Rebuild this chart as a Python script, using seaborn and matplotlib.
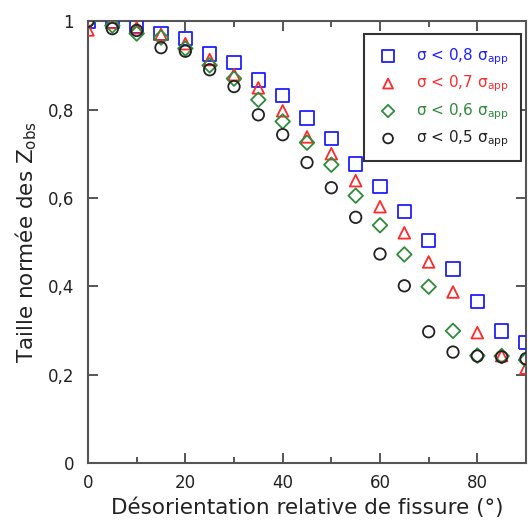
import numpy as np
import pandas as pd
import matplotlib
matplotlib.use("Agg")
import matplotlib.pyplot as plt
import seaborn as sns
from matplotlib.ticker import MultipleLocator, FuncFormatter

# Data
angle = [0, 5, 10, 15, 20, 25, 30, 35, 40, 45, 50, 55, 60, 65, 70, 75, 80, 85, 90]
z_08 = [1.0, 1.0, 0.988, 0.972, 0.96, 0.926, 0.906, 0.867, 0.831, 0.781, 0.734,
        0.677, 0.625, 0.569, 0.503, 0.439, 0.365, 0.299, 0.272]
z_07 = [0.98, 0.997, 0.985, 0.97, 0.949, 0.913, 0.879, 0.849, 0.797, 0.738, 0.70,
        0.639, 0.58, 0.521, 0.455, 0.387, 0.295, 0.243, 0.215]
z_06 = [1.0, 0.99, 0.972, 0.963, 0.938, 0.90, 0.87, 0.822, 0.773, 0.725, 0.675,
        0.605, 0.538, 0.472, 0.399, 0.299, 0.243, 0.242, 0.233]
z_05 = [1.0, 0.983, 0.979, 0.94, 0.932, 0.89, 0.852, 0.788, 0.743, 0.68, 0.623,
        0.556, 0.473, 0.401, 0.297, 0.251, 0.242, 0.24, 0.236]

labels = [r"σ < 0,8 $\mathregular{σ_{app}}$", r"σ < 0,7 $\mathregular{σ_{app}}$",
          r"σ < 0,6 $\mathregular{σ_{app}}$", r"σ < 0,5 $\mathregular{σ_{app}}$"]
series = [z_08, z_07, z_06, z_05]
colors = ["#1f1fff", "#ff2a2a", "#2e8b3a", "#222222"]
markers = ["s", "^", "D", "o"]
sizes = [92, 70, 55, 68]

sns.set_style("ticks")
plt.rcParams["font.family"] = ["DejaVu Sans"]

fig = plt.figure(figsize=(5.28, 5.26), dpi=100)
ax = fig.add_axes([0.1667, 0.1198, 0.8295, 0.840])

for lab, vals, c, m, s in zip(labels, series, colors, markers, sizes):
    df = pd.DataFrame({"angle": angle, "z": vals})
    sns.scatterplot(data=df, x="angle", y="z", ax=ax, marker=m, s=s,
                    color=c, facecolor="none", edgecolor=c, linewidth=1.3,
                    label=lab, clip_on=True, zorder=3)

ax.set_xlim(0, 90)
ax.set_ylim(0, 1)
ax.xaxis.set_major_locator(MultipleLocator(20))
ax.xaxis.set_minor_locator(MultipleLocator(10))
ax.yaxis.set_major_locator(MultipleLocator(0.2))


def fmt(v, pos):
    if abs(v - round(v)) < 1e-9:
        return str(int(round(v)))
    return ("%.1f" % v).replace(".", ",")


ax.yaxis.set_major_formatter(FuncFormatter(fmt))
ax.xaxis.set_major_formatter(FuncFormatter(fmt))

ax.tick_params(which="both", direction="in", top=True, right=True,
               color="#555555", width=1.4, labelsize=12, labelcolor="#222222")
ax.tick_params(which="major", length=7)
ax.tick_params(which="minor", length=4)
ax.tick_params(axis="x", pad=8)
ax.tick_params(axis="y", pad=10)
for sp in ax.spines.values():
    sp.set_color("#555555")
    sp.set_linewidth(1.5)

ax.set_xlabel("Désorientation relative de fissure (°)", fontsize=15.5,
              color="#222222", labelpad=4)
ax.set_ylabel(r"Taille normée des $\mathregular{Z_{obs}}$", fontsize=15.5,
              color="#222222", labelpad=6)

leg = ax.legend(loc="upper right", bbox_to_anchor=(0.989, 0.971),
                borderaxespad=0, fontsize=11, frameon=True, fancybox=False,
                framealpha=1, edgecolor="#333333", labelcolor=colors,
                handlelength=1.6, handletextpad=1.05, labelspacing=0.45,
                borderpad=0.8, markerscale=0.85)
leg.get_frame().set_linewidth(1.5)

fig.savefig("out.png", dpi=100)
